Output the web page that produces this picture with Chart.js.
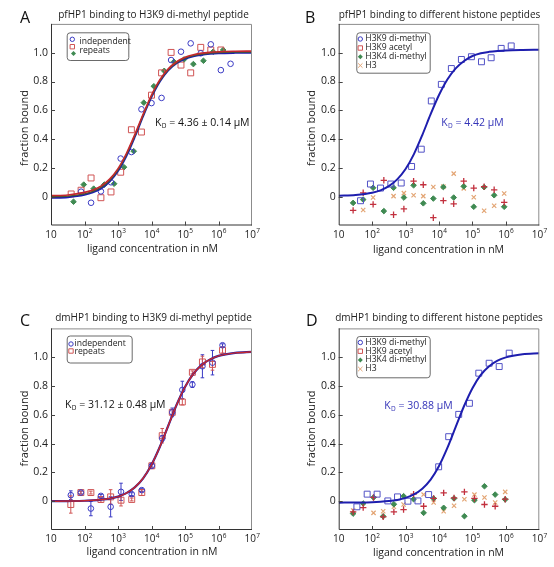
<!DOCTYPE html>
<html><head><meta charset="utf-8">
<script src="https://cdn.jsdelivr.net/npm/chart.js@4.4.1/dist/chart.umd.min.js"></script>
<style>
html,body{margin:0;padding:0;background:#fff;}
body{width:554px;height:567px;position:relative;overflow:hidden;}
canvas{position:absolute;}
</style></head>
<body>
<canvas id="cA"></canvas><canvas id="cB"></canvas><canvas id="cC"></canvas><canvas id="cD"></canvas>
<script>
// ---------- axis ticks ----------
const xTickVals = [10, 100, 1000, 10000, 100000, 1000000, 10000000];
const xTickExps = ['', '2', '3', '4', '5', '6', '7'];
const yTickVals = [0, 0.2, 0.4, 0.6, 0.8, 1.0];
const yTickLabels = ['0', '0.2', '0.4', '0.6', '0.8', '1.0'];

// ---------- fitted curves ----------
const fitX = [10, 32, 100, 178, 316, 562, 1000, 1778, 3162, 5623, 10000, 17783, 31623, 56234, 100000, 177828, 316228, 562341, 1000000, 3162278, 10000000];
const fitA_independent = [-0.008, -0.003, 0.013, 0.030, 0.058, 0.105, 0.178, 0.283, 0.415, 0.559, 0.693, 0.801, 0.878, 0.927, 0.958, 0.976, 0.986, 0.992, 0.996, 0.999, 1.000];
const fitA_repeats2 = [0.000, 0.004, 0.020, 0.037, 0.066, 0.113, 0.186, 0.291, 0.422, 0.565, 0.699, 0.806, 0.882, 0.931, 0.962, 0.980, 0.991, 0.997, 1.001, 1.004, 1.005];
const fitA_repeats = [0.008, 0.012, 0.030, 0.046, 0.075, 0.122, 0.195, 0.300, 0.431, 0.573, 0.706, 0.813, 0.888, 0.937, 0.968, 0.986, 0.997, 1.003, 1.007, 1.010, 1.011];
const fitB_dimethyl = [0.007, 0.012, 0.027, 0.044, 0.073, 0.120, 0.192, 0.296, 0.428, 0.573, 0.706, 0.814, 0.891, 0.942, 0.977, 0.996, 1.006, 1.012, 1.016, 1.019, 1.020];
const fitC_independent = [0.000, 0.001, 0.003, 0.006, 0.011, 0.018, 0.032, 0.056, 0.096, 0.159, 0.253, 0.378, 0.524, 0.670, 0.793, 0.885, 0.947, 0.985, 1.009, 1.030, 1.037];
const fitC_repeats = [0.000, 0.001, 0.003, 0.006, 0.011, 0.018, 0.032, 0.056, 0.096, 0.159, 0.253, 0.378, 0.524, 0.670, 0.793, 0.885, 0.947, 0.985, 1.009, 1.030, 1.037];
const fitD_dimethyl = [-0.010, -0.009, -0.007, -0.004, 0.001, 0.009, 0.023, 0.047, 0.087, 0.150, 0.244, 0.370, 0.516, 0.661, 0.785, 0.877, 0.937, 0.976, 0.999, 1.020, 1.027];

// ---------- panel A: pfHP1 / H3K9me2 ----------
const aIndepX = [79, 157, 309, 617, 1202, 2512, 5012, 10000, 19950, 38460, 75860, 147900, 295100, 588800, 1175000, 2291000];
const aIndepY = [0.035, -0.042, 0.037, 0.100, 0.265, 0.310, 0.607, 0.650, 0.686, 0.949, 1.007, 1.065, 0.996, 1.058, 0.879, 0.923];
const aRepX = [40, 79, 157, 309, 617, 1202, 2512, 5012, 10000, 19950, 38460, 75860, 147900, 295100, 588800, 1175000];
const aRepY = [0.019, 0.045, 0.130, -0.007, 0.033, 0.170, 0.465, 0.449, 0.705, 0.860, 1.002, 0.914, 0.860, 1.037, 1.019, 1.019];
const aRep2X = [47, 95, 188, 389, 767, 1514, 2951, 5888, 11750, 23990, 46770, 93330, 177800, 354800, 691800, 1380000];
const aRep2Y = [-0.035, 0.084, 0.056, 0.084, 0.090, 0.205, 0.316, 0.653, 0.767, 0.874, 0.937, 0.953, 0.921, 0.944, 1.007, 1.019];

// ---------- panel B: pfHP1 / histone peptides ----------
const bDimethylX = [45, 89, 178, 363, 741, 1514, 2951, 5888, 11750, 23440, 46770, 93330, 186200, 363100, 724400, 1445000];
const bDimethylY = [-0.028, 0.088, 0.060, 0.088, 0.095, 0.210, 0.330, 0.665, 0.780, 0.890, 0.953, 0.972, 0.937, 0.965, 1.030, 1.047];
const bOtherX = [27, 54, 107, 224, 437, 891, 1738, 3388, 6761, 13490, 27540, 54950, 109600, 223900, 446700, 891300];
const bAcetylY = [-0.095, 0.027, -0.053, 0.114, -0.125, -0.085, 0.108, 0.083, -0.146, -0.027, -0.050, 0.108, 0.060, 0.070, 0.048, -0.040];
const bK4Y = [-0.043, -0.020, 0.062, -0.100, 0.062, -0.006, 0.079, -0.046, -0.013, 0.067, -0.006, 0.072, -0.070, 0.066, 0.010, -0.070];
const bH3X = [54, 107, 437, 891, 1738, 3388, 6761, 13490, 27540, 54950, 109600, 223900, 446700, 891300];
const bH3Y = [-0.092, -0.006, 0.004, 0.025, 0.010, 0.004, 0.067, 0.070, 0.160, 0.058, -0.004, -0.098, -0.063, 0.022];

// ---------- panel C: dmHP1 / H3K9me2 ----------
const cX = [39, 78, 155, 309, 603, 1230, 2570, 5130, 10230, 20890, 41690, 83180, 166000, 331100, 660700, 1318000];
const cIndepY = [0.042, 0.060, -0.051, 0.037, -0.039, 0.065, 0.049, 0.077, 0.246, 0.436, 0.617, 0.773, 0.810, 0.937, 0.962, 1.083];
const cIndepErr = [0.030, 0.010, 0.050, 0.010, 0.070, 0.060, 0.010, 0.010, 0.010, 0.020, 0.030, 0.060, 0.020, 0.080, 0.085, 0.010];
const cRepY = [-0.023, 0.060, 0.060, 0.012, 0.030, 0.007, 0.012, 0.060, 0.246, 0.455, 0.617, 0.689, 0.895, 0.967, 0.950, 1.048];
const cRepErr = [0.060, 0.010, 0.010, 0.020, 0.050, 0.040, 0.010, 0.020, 0.020, 0.050, 0.020, 0.020, 0.010, 0.040, 0.040, 0.020];

// ---------- panel D: dmHP1 / histone peptides ----------
const dDimethylX = [35, 71, 141, 295, 575, 1175, 2344, 4898, 9772, 19500, 38900, 81280, 154900, 316200, 631000, 1259000];
const dDimethylY = [-0.039, 0.049, 0.049, 0.002, 0.030, 0.000, 0.002, 0.046, 0.239, 0.448, 0.603, 0.680, 0.889, 0.958, 0.935, 1.028];
const dOtherX = [27, 54, 110, 214, 447, 871, 1738, 3467, 6918, 13800, 28180, 57540, 114800, 229100, 478600, 955000];
const dAcetylY = [-0.074, -0.044, 0.026, -0.109, -0.074, -0.058, 0.049, -0.035, 0.019, 0.058, 0.023, 0.065, 0.019, -0.023, -0.035, 0.014];
const dK4Y = [-0.086, -0.016, 0.026, -0.105, -0.021, 0.035, 0.014, -0.081, 0.019, -0.046, 0.019, -0.104, 0.007, 0.104, 0.046, 0.012];
const dH3X = [27, 110, 214, 447, 871, 3467, 6918, 13800, 28180, 57540, 114800, 229100, 478600, 955000];
const dH3Y = [-0.065, -0.081, -0.070, -0.039, -0.023, 0.046, -0.009, -0.070, -0.032, 0.014, 0.046, 0.026, -0.009, 0.065];

// ---------- styles ----------
const BLUE = '#3a3ac4', BLUE_LINE = '#1e1eae', RED = '#d05454', RED_LINE = '#c4282e',
      GREEN = '#3f8a52', PLUS = '#c2303e', ORANGE = '#e3a574', SQ_BLUE = '#5252c6', KD_BLUE = '#3434b8';
const FONT = "'Open Sans', sans-serif";
Chart.defaults.font.family = FONT;

const pts = (xs, ys) => xs.map((x, i) => ({x: x, y: ys[i]}));
function scat(label, xs, ys, style, color, r, filled, bw) {
  return {label, data: pts(xs, ys), showLine: false, pointStyle: style, pointRadius: r, pointHoverRadius: r,
    borderColor: color, backgroundColor: filled ? color : 'rgba(0,0,0,0)', pointBorderWidth: bw || 1, borderWidth: bw || 1};
}
function fit(label, ys, color, w) {
  return {label, data: pts(fitX, ys), showLine: true, pointRadius: 0, pointHoverRadius: 0, borderColor: color,
    backgroundColor: color, borderWidth: w, cubicInterpolationMode: 'monotone', fill: false};
}

function marker(ctx, m, x, y, c) {
  const s = 2.2;
  ctx.save(); ctx.strokeStyle = c; ctx.fillStyle = c; ctx.lineWidth = 1; ctx.beginPath();
  if (m === 'circle') { ctx.arc(x, y, s, 0, Math.PI * 2); ctx.stroke(); }
  else if (m === 'rect') { ctx.rect(x - s, y - s, 2 * s, 2 * s); ctx.stroke(); }
  else if (m === 'rectRot') { ctx.moveTo(x, y - s - 0.3); ctx.lineTo(x + s + 0.3, y); ctx.lineTo(x, y + s + 0.3); ctx.lineTo(x - s - 0.3, y); ctx.closePath(); ctx.fill(); }
  else if (m === 'crossRot') { ctx.moveTo(x - s, y - s); ctx.lineTo(x + s, y + s); ctx.moveTo(x + s, y - s); ctx.lineTo(x - s, y + s); ctx.stroke(); }
  ctx.restore();
}
function rrect(ctx, x0, y0, x1, y1, r) {
  ctx.beginPath(); ctx.moveTo(x0 + r, y0); ctx.lineTo(x1 - r, y0); ctx.arcTo(x1, y0, x1, y0 + r, r);
  ctx.lineTo(x1, y1 - r); ctx.arcTo(x1, y1, x1 - r, y1, r); ctx.lineTo(x0 + r, y1); ctx.arcTo(x0, y1, x0, y1 - r, r);
  ctx.lineTo(x0, y0 + r); ctx.arcTo(x0, y0, x0 + r, y0, r); ctx.closePath();
}

const panelPlugin = {
  id: 'panel',
  beforeDatasetsDraw(chart, args, o) {
    const ctx = chart.ctx, xs = chart.scales.x, ys = chart.scales.y;
    ctx.save();
    (o.errors || []).forEach(e => {
      ctx.strokeStyle = e.color; ctx.lineWidth = 1;
      e.x.forEach((xv, i) => {
        const px = xs.getPixelForValue(xv), p1 = ys.getPixelForValue(e.y[i] + e.err[i]), p2 = ys.getPixelForValue(e.y[i] - e.err[i]);
        ctx.beginPath(); ctx.moveTo(px, p1); ctx.lineTo(px, p2);
        ctx.moveTo(px - 1.8, p1); ctx.lineTo(px + 1.8, p1); ctx.moveTo(px - 1.8, p2); ctx.lineTo(px + 1.8, p2); ctx.stroke();
      });
    });
    ctx.restore();
  },
  afterDraw(chart, args, o) {
    const ctx = chart.ctx, a = chart.chartArea, xs = chart.scales.x, ys = chart.scales.y;
    const ox = o.ox, oy = o.oy;
    ctx.save();
    // frame
    ctx.lineWidth = 1;
    ctx.strokeStyle = '#8c8c8c';
    ctx.beginPath(); ctx.moveTo(a.left, a.top + 0.5); ctx.lineTo(a.right - 0.5, a.top + 0.5); ctx.lineTo(a.right - 0.5, a.bottom); ctx.stroke();
    ctx.strokeStyle = '#333';
    ctx.beginPath(); ctx.moveTo(a.left + 0.5, a.top); ctx.lineTo(a.left + 0.5, a.bottom - 0.5); ctx.lineTo(a.right, a.bottom - 0.5); ctx.stroke();
    // inner ticks
    ctx.strokeStyle = '#444';
    ctx.beginPath();
    xTickVals.forEach(v => { const px = Math.round(xs.getPixelForValue(v)) + 0.5; if (px > a.left + 2 && px < a.right - 2) { ctx.moveTo(px, a.bottom); ctx.lineTo(px, a.bottom - 4); } });
    yTickVals.forEach(v => { const py = Math.round(ys.getPixelForValue(v)) + 0.5; ctx.moveTo(a.left, py); ctx.lineTo(a.left + 4, py); });
    ctx.stroke();
    // x tick labels with superscripts
    ctx.fillStyle = '#222'; ctx.textBaseline = 'alphabetic';
    xTickVals.forEach((v, i) => {
      const px = xs.getPixelForValue(v), base = '10', ex = xTickExps[i];
      ctx.font = '10px ' + FONT; const wb = ctx.measureText(base).width;
      ctx.font = '6.5px ' + FONT; const we = ex ? ctx.measureText(ex).width : 0;
      const x0 = px - (wb + we) / 2, by = a.bottom + 12;
      ctx.font = '10px ' + FONT; ctx.textAlign = 'left'; ctx.fillText(base, x0, by);
      if (ex) { ctx.font = '6.5px ' + FONT; ctx.fillText(ex, x0 + wb + 0.3, by - 4.5); }
    });
    // letter and title
    ctx.fillStyle = '#111'; ctx.textAlign = 'left';
    ctx.font = '16px ' + FONT; ctx.fillText(o.letter.t, o.letter.x - ox, o.letter.y - oy);
    ctx.font = '10px ' + FONT; ctx.textAlign = 'center'; ctx.fillStyle = '#222';
    ctx.fillText(o.title.t, o.title.x - ox, o.title.y - oy);
    // axis titles
    ctx.font = '10.5px ' + FONT; ctx.textBaseline = 'middle';
    ctx.fillText('ligand concentration in nM', o.xtitle.x - ox, o.xtitle.y - oy);
    ctx.save(); ctx.translate(o.ytitle.x - ox, o.ytitle.y - oy); ctx.rotate(-Math.PI / 2);
    ctx.font = '11px ' + FONT; ctx.fillText('fraction bound', 0, 0); ctx.restore();
    // Kd annotation
    ctx.textAlign = 'left'; ctx.fillStyle = o.kd.color;
    let kx = o.kd.x - ox; const ky = o.kd.y - oy;
    ctx.font = '10.5px ' + FONT; ctx.fillText('K', kx, ky); kx += ctx.measureText('K').width;
    ctx.font = '6.5px ' + FONT; ctx.fillText('D', kx + 0.3, ky + 3); kx += ctx.measureText('D').width + 0.3;
    ctx.font = '10.5px ' + FONT; ctx.fillText(o.kd.rest, kx, ky);
    // legend
    const L = o.legend;
    ctx.fillStyle = '#fff'; ctx.strokeStyle = '#6a6a6a'; ctx.lineWidth = 1;
    rrect(ctx, L.box[0] - ox + 0.5, L.box[1] - oy + 0.5, L.box[2] - ox + 0.5, L.box[3] - oy + 0.5, 3);
    ctx.fill(); ctx.stroke();
    L.marks.forEach(m => marker(ctx, m[0], m[2] - ox, m[3] - oy, m[1]));
    ctx.fillStyle = '#222'; ctx.font = '8.6px ' + FONT; ctx.textBaseline = 'middle';
    L.texts.forEach(t => ctx.fillText(t[0], t[1] - ox, t[2] - oy));
    ctx.restore();
  }
};

function makePanel(id, box, area, datasets, deco) {
  const cv = document.getElementById(id);
  cv.style.left = box.left + 'px'; cv.style.top = box.top + 'px';
  cv.width = box.w; cv.height = box.h; cv.style.width = box.w + 'px'; cv.style.height = box.h + 'px';
  deco.ox = box.left; deco.oy = box.top;
  return new Chart(cv, {
    type: 'scatter',
    data: {datasets},
    options: {
      responsive: false, animation: false, events: [],
      layout: {padding: {left: 0, top: area.T - box.top, right: box.left + box.w - area.R, bottom: 0}},
      plugins: {legend: {display: false}, tooltip: {enabled: false}, panel: deco},
      scales: {
        x: {type: 'logarithmic', min: 10, max: 10000000,
            afterBuildTicks: s => { s.ticks = xTickVals.map(v => ({value: v})); },
            ticks: {display: false}, grid: {display: false, drawTicks: false}, border: {display: false},
            afterFit: s => { s.height = box.top + box.h - area.B; }},
        y: {type: 'linear', min: -0.2, max: 1.2,
            afterBuildTicks: s => { s.ticks = yTickVals.map(v => ({value: v})); },
            ticks: {padding: 3, color: '#222', font: {size: 10.5}, callback: (v, i) => yTickLabels[i]},
            grid: {display: false, drawTicks: false}, border: {display: false},
            afterFit: s => { s.width = area.L - box.left; }}
      }
    },
    plugins: [panelPlugin]
  });
}

// Panel A
makePanel('cA', {left: 0, top: 0, w: 277, h: 290}, {L: 51, T: 23.9, R: 252, B: 225.5}, [
  fit('repeats fit', fitA_repeats, RED_LINE, 1.6),
  fit('repeats 2 fit', fitA_repeats2, '#4a5a30', 1.4),
  fit('independent fit', fitA_independent, BLUE_LINE, 2),
  scat('independent', aIndepX, aIndepY, 'circle', BLUE, 2.8, false),
  scat('repeats', aRepX, aRepY, 'rect', RED, 4.2, false),
  scat('repeats 2', aRep2X, aRep2Y, 'rectRot', GREEN, 2.8, true)
], {
  letter: {t: 'A', x: 20, y: 23}, title: {t: 'pfHP1 binding to H3K9 di-methyl peptide', x: 153.5, y: 17.5},
  xtitle: {x: 152.5, y: 249}, ytitle: {x: 25, y: 128},
  kd: {rest: ' = 4.36 ± 0.14 µM', x: 155, y: 122.7, color: '#111'},
  legend: {box: [66.7, 32.3, 128.3, 60],
    marks: [['circle', BLUE, 72.3, 39.3], ['rect', RED, 72.3, 46.7], ['rectRot', GREEN, 73.5, 53.5]],
    texts: [['independent', 79.5, 41.5], ['repeats', 79.5, 50.5]]}
});

// Panel B
makePanel('cB', {left: 277, top: 0, w: 277, h: 290}, {L: 338.7, T: 23.9, R: 539.3, B: 225.5}, [
  fit('H3K9 di-methyl fit', fitB_dimethyl, BLUE_LINE, 2),
  scat('H3K9 di-methyl', bDimethylX, bDimethylY, 'rect', SQ_BLUE, 4.2, false),
  scat('H3K9 acetyl', bOtherX, bAcetylY, 'cross', PLUS, 3.2, false, 1.3),
  scat('H3K4 di-methyl', bOtherX, bK4Y, 'rectRot', GREEN, 2.8, true),
  scat('H3', bH3X, bH3Y, 'crossRot', ORANGE, 3, false, 1.2)
], {
  letter: {t: 'B', x: 305, y: 23}, title: {t: 'pfHP1 binding to different histone peptides', x: 439.5, y: 17.5},
  xtitle: {x: 438.5, y: 250}, ytitle: {x: 312, y: 128},
  kd: {rest: ' = 4.42 µM', x: 441.3, y: 123.3, color: KD_BLUE},
  legend: {box: [356.3, 32.3, 429.7, 72.7],
    marks: [['circle', BLUE, 360.3, 39], ['rect', RED, 360.3, 48], ['rectRot', GREEN, 360.3, 56.7], ['crossRot', ORANGE, 360.3, 65.5]],
    texts: [['H3K9 di-methyl', 365.3, 39], ['H3K9 acetyl', 365.3, 48], ['H3K4 di-methyl', 365.3, 56.7], ['H3', 365.3, 65.5]]}
});

// Panel C
makePanel('cC', {left: 0, top: 290, w: 277, h: 277}, {L: 51, T: 328.4, R: 252, B: 530}, [
  fit('repeats fit', fitC_repeats, RED_LINE, 1.5),
  fit('independent fit', fitC_independent, BLUE_LINE, 2.2),
  scat('independent', cX, cIndepY, 'circle', BLUE, 2.8, false),
  scat('repeats', cX, cRepY, 'rect', RED, 4.2, false)
], {
  letter: {t: 'C', x: 20, y: 326}, title: {t: 'dmHP1 binding to H3K9 di-methyl peptide', x: 153.5, y: 321},
  xtitle: {x: 152, y: 552}, ytitle: {x: 25, y: 428.5},
  kd: {rest: ' = 31.12 ± 0.48 µM', x: 65, y: 405, color: '#111'},
  errors: [{x: cX, y: cIndepY, err: cIndepErr, color: BLUE}, {x: cX, y: cRepY, err: cRepErr, color: RED}],
  legend: {box: [66.7, 335.5, 131.7, 362.5],
    marks: [['circle', BLUE, 71, 344], ['rect', RED, 71, 351]],
    texts: [['independent', 74.5, 344], ['repeats', 74.5, 351.5]]}
});

// Panel D
makePanel('cD', {left: 277, top: 290, w: 277, h: 277}, {L: 338.7, T: 328.4, R: 539.3, B: 530}, [
  fit('H3K9 di-methyl fit', fitD_dimethyl, BLUE_LINE, 2),
  scat('H3K9 di-methyl', dDimethylX, dDimethylY, 'rect', SQ_BLUE, 4.2, false),
  scat('H3K9 acetyl', dOtherX, dAcetylY, 'cross', PLUS, 3.2, false, 1.3),
  scat('H3K4 di-methyl', dOtherX, dK4Y, 'rectRot', GREEN, 2.8, true),
  scat('H3', dH3X, dH3Y, 'crossRot', ORANGE, 3, false, 1.2)
], {
  letter: {t: 'D', x: 306, y: 326}, title: {t: 'dmHP1 binding to different histone peptides', x: 439, y: 321},
  xtitle: {x: 438.5, y: 553}, ytitle: {x: 312, y: 428.5},
  kd: {rest: ' = 30.88 µM', x: 384.3, y: 405.7, color: KD_BLUE},
  legend: {box: [356.3, 336, 429.7, 377.3],
    marks: [['circle', BLUE, 360.3, 342.5], ['rect', RED, 360.3, 351.2], ['rectRot', GREEN, 360.3, 360], ['crossRot', ORANGE, 360.3, 369]],
    texts: [['H3K9 di-methyl', 365.3, 342.5], ['H3K9 acetyl', 365.3, 351.2], ['H3K4 di-methyl', 365.3, 360], ['H3', 365.3, 369]]}
});
</script>
</body></html>
